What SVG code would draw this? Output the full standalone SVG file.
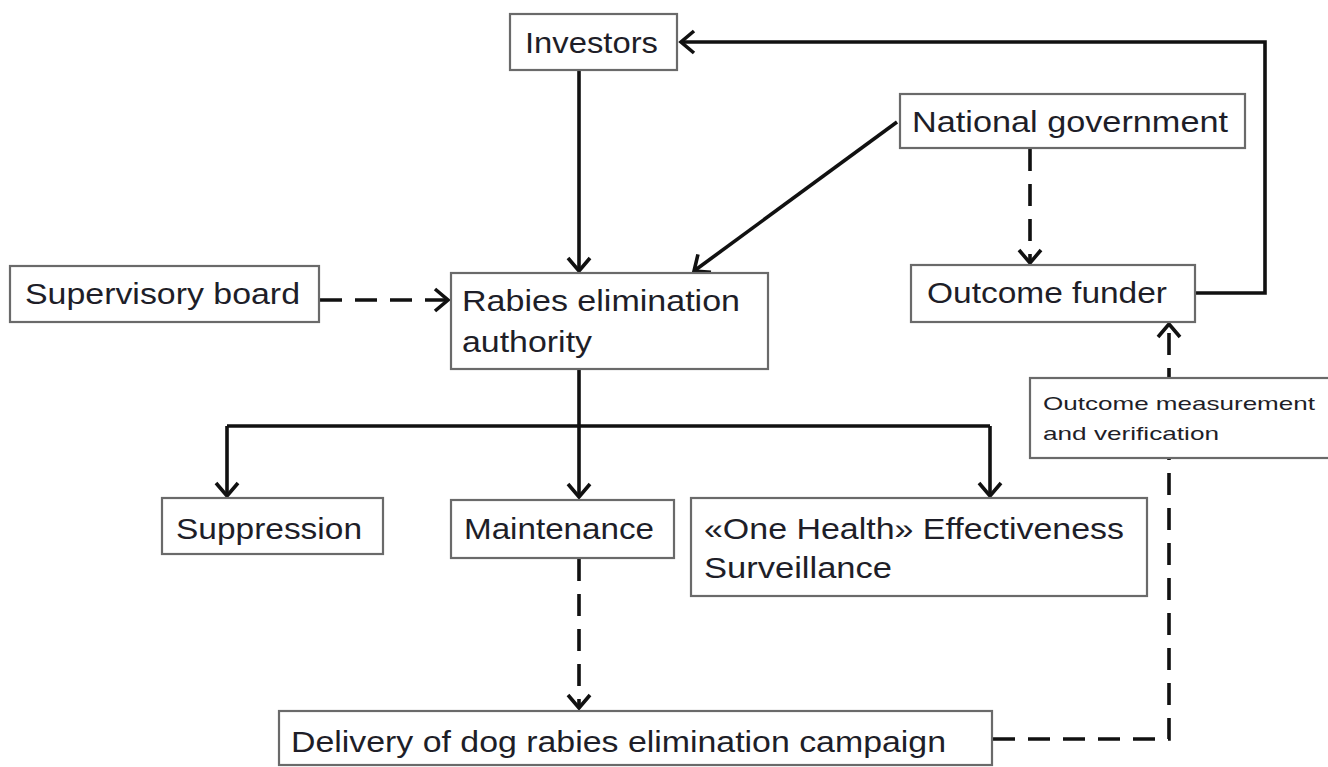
<svg xmlns="http://www.w3.org/2000/svg" width="1328" height="767" viewBox="0 0 1328 767">
<style>
.box{fill:#fff;stroke:#6a6a6a;stroke-width:2.2}
.t{font-family:"Liberation Sans",Arial,sans-serif;font-size:29px;fill:#1e1e28}
.s{font-family:"Liberation Sans",Arial,sans-serif;font-size:19px;fill:#1e1e28}
.c{fill:none;stroke:#111;stroke-width:3.6}
.d{stroke-dasharray:22 13}
</style>
<defs>
<marker id="ah" viewBox="0 0 16 24" refX="14" refY="12" markerWidth="16" markerHeight="24" markerUnits="userSpaceOnUse" orient="auto" overflow="visible">
<path d="M1,1 L14,12 L1,23" fill="none" stroke="#111" stroke-width="3.6"/>
</marker>
</defs>
<rect width="1328" height="767" fill="#fff"/>
<g id="connectors">
<path class="c" d="M579,70 L579,271" marker-end="url(#ah)"/>
<path class="c" d="M897,122 L694,271" marker-end="url(#ah)"/>
<path class="c d" d="M320,300 L448,300" marker-end="url(#ah)"/>
<path class="c d" d="M1030,149 L1030,263" marker-end="url(#ah)"/>
<path class="c" d="M1195,293 L1265,293 L1265,42 L681,42" marker-end="url(#ah)"/>
<path class="c" d="M579,369 L579,497" marker-end="url(#ah)"/>
<path class="c" d="M227,426 L990,426"/>
<path class="c" d="M227,426 L227,496" marker-end="url(#ah)"/>
<path class="c" d="M990,426 L990,496" marker-end="url(#ah)"/>
<path class="c d" d="M579,559 L579,708" marker-end="url(#ah)"/>
<path class="c d" d="M993,739 L1169,739 L1169,324" marker-end="url(#ah)"/>
</g>
<g id="investors"><rect class="box" x="510" y="14" width="167" height="56"/><text class="t" x="525" y="53" textLength="133" lengthAdjust="spacingAndGlyphs">Investors</text></g>
<g id="national-government"><rect class="box" x="900" y="94" width="345" height="54"/><text class="t" x="912" y="132" textLength="316" lengthAdjust="spacingAndGlyphs">National government</text></g>
<g id="supervisory-board"><rect class="box" x="10" y="266" width="309" height="56"/><text class="t" x="25" y="304" textLength="275" lengthAdjust="spacingAndGlyphs">Supervisory board</text></g>
<g id="rabies-authority"><rect class="box" x="451" y="273" width="317" height="96"/><text class="t" x="462" y="311" textLength="278" lengthAdjust="spacingAndGlyphs">Rabies elimination</text><text class="t" x="462" y="352" textLength="130" lengthAdjust="spacingAndGlyphs">authority</text></g>
<g id="outcome-funder"><rect class="box" x="911" y="265" width="284" height="57"/><text class="t" x="927" y="303" textLength="240" lengthAdjust="spacingAndGlyphs">Outcome funder</text></g>
<g id="outcome-measurement"><rect class="box" x="1030" y="378" width="302" height="80"/><text class="s" x="1043" y="410" textLength="272" lengthAdjust="spacingAndGlyphs">Outcome measurement</text><text class="s" x="1043" y="440" textLength="176" lengthAdjust="spacingAndGlyphs">and verification</text></g>
<g id="suppression"><rect class="box" x="162" y="498" width="221" height="56"/><text class="t" x="176" y="539" textLength="186" lengthAdjust="spacingAndGlyphs">Suppression</text></g>
<g id="maintenance"><rect class="box" x="451" y="500" width="223" height="58"/><text class="t" x="464" y="539" textLength="190" lengthAdjust="spacingAndGlyphs">Maintenance</text></g>
<g id="one-health"><rect class="box" x="691" y="498" width="456" height="98"/><text class="t" x="704" y="539" textLength="420" lengthAdjust="spacingAndGlyphs">«One Health» Effectiveness</text><text class="t" x="704" y="578" textLength="188" lengthAdjust="spacingAndGlyphs">Surveillance</text></g>
<g id="delivery"><rect class="box" x="279" y="711" width="713" height="54"/><text class="t" x="291" y="752" textLength="655" lengthAdjust="spacingAndGlyphs">Delivery of dog rabies elimination campaign</text></g>
</svg>
